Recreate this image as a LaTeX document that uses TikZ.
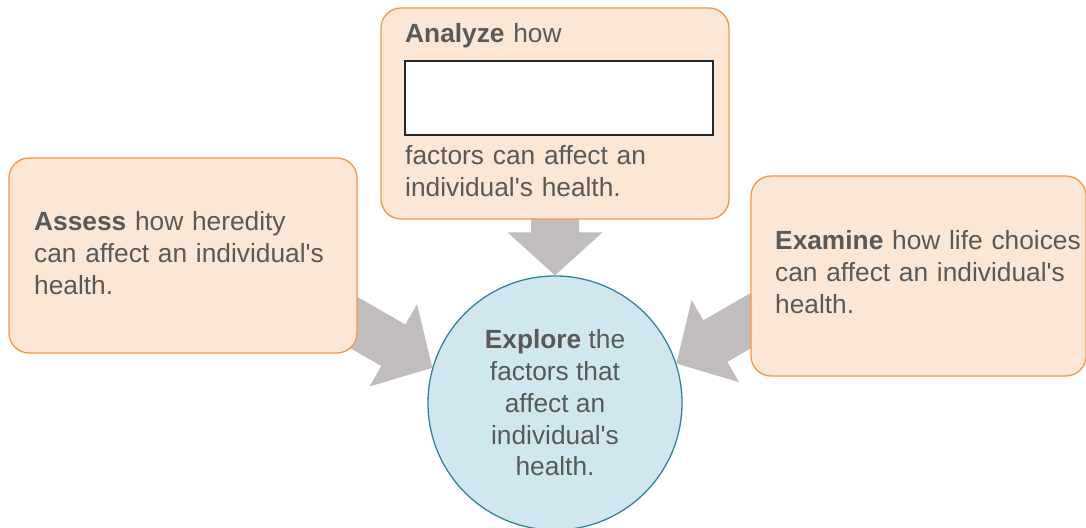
\documentclass[tikz,border=0pt]{standalone}
\usepackage{fontspec}
\setmainfont{Liberation Sans}[Ligatures=TeXOff]
\usetikzlibrary{calc}
\definecolor{boxfill}{HTML}{FCE6D5}
\definecolor{boxline}{HTML}{F79646}
\definecolor{circfill}{HTML}{D0E7EF}
\definecolor{circline}{HTML}{31849B}
\definecolor{arrowgray}{HTML}{C0BDBC}
\definecolor{txt}{HTML}{595959}
\begin{document}
\begin{tikzpicture}[x=1pt,y=1pt,
  box/.style={draw=boxline, fill=boxfill, line width=1.3pt, rounded corners=20pt, inner sep=0pt},
  txtstyle/.style={text=txt, font=\fontsize{26.3}{32}\selectfont, inner sep=0pt, align=left, text width=330pt, anchor=base west},
  blockarrow/.style={fill=arrowgray}
]
\useasboundingbox (0,0) rectangle (1086,527);
% central circle
\node[circle, draw=circline, fill=circfill, line width=1.3pt, minimum size=254pt, inner sep=0pt,
      text=txt, align=center, font=\fontsize{26.3}{31.8}\selectfont] (c) at (555,124)
  {\textbf{Explore} the\\factors that\\affect an\\individual's\\health.};
% block arrows
\begin{scope}[shift={(c.north)}, rotate=-90]
  \fill[blockarrow] (0,0) -- (-43,47.5) -- (-43,24) -- (-80,24) -- (-80,-24) -- (-43,-24) -- (-43,-47.5) -- cycle;
\end{scope}
\begin{scope}[shift={(c.164)}, rotate=-30]
  \fill[blockarrow] (0,0) -- (-45,47.5) -- (-45,24) -- (-110,24) -- (-110,-24) -- (-45,-24) -- (-45,-47.5) -- cycle;
\end{scope}
\begin{scope}[shift={(c.18)}, rotate=210]
  \fill[blockarrow] (0,0) -- (-45,47.5) -- (-45,24) -- (-110,24) -- (-110,-24) -- (-45,-24) -- (-45,-47.5) -- cycle;
\end{scope}
% boxes
\node[box, minimum width=348pt, minimum height=195pt] (l) at (183,271.5) {};
\node[box, minimum width=348pt, minimum height=211pt] (t) at (555,413.5) {};
\node[box, minimum width=335pt, minimum height=200pt] (r) at (918.5,251) {};
\node[draw=black!85, line width=2.5pt, fill=white, minimum width=308pt, minimum height=74pt, inner sep=0pt] (blank) at (559,429) {};
% texts
\node[txtstyle] (lt) at (34,296) {\textbf{Assess} how heredity\\can affect an individual's\\health.};
\node[txtstyle] (ta) at (405,484) {\textbf{Analyze} how};
\node[txtstyle] (tb) at (405,362) {factors can affect an\\individual's health.};
\node[txtstyle] (rt) at (775,277) {\textbf{Examine} how life choices\\can affect an individual's\\health.};
\end{tikzpicture}
\end{document}
